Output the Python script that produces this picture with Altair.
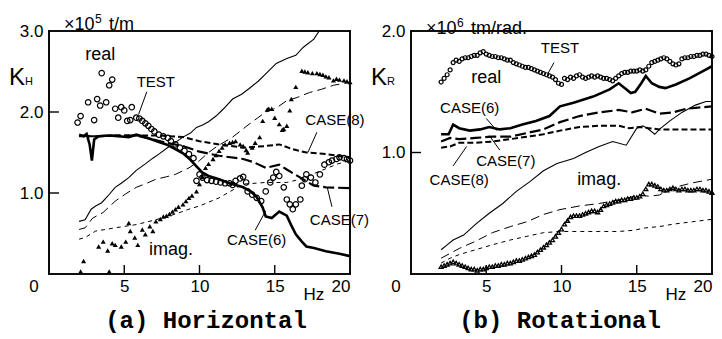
import altair as alt
import pandas as pd

# ---------------- data: (a) Horizontal ----------------
h_c6r_hz = [2.0, 2.3, 2.5, 2.7, 2.85, 3.0, 3.3, 4.0, 4.6, 5.3, 5.8, 6.2, 6.7, 7.3, 7.8, 8.3, 8.9, 9.4, 9.8, 10.2, 10.6, 11.3, 12.0, 12.9, 13.4, 13.8, 14.2, 14.4, 14.8, 15.3, 15.8, 16.1, 16.4, 16.8, 17.1, 17.6, 18.4, 19.3, 20.0]
h_c6r_v = [1.72, 1.70, 1.73, 1.60, 1.40, 1.66, 1.70, 1.71, 1.70, 1.69, 1.72, 1.70, 1.67, 1.63, 1.60, 1.55, 1.49, 1.41, 1.33, 1.25, 1.21, 1.17, 1.12, 1.07, 1.02, 0.95, 0.82, 0.71, 0.69, 0.77, 0.72, 0.60, 0.49, 0.40, 0.34, 0.32, 0.28, 0.25, 0.22]
h_c6i_hz = [2.0, 2.4, 2.8, 3.1, 3.5, 3.9, 4.4, 4.8, 5.3, 5.8, 6.4, 6.9, 7.3, 7.8, 8.2, 8.9, 9.4, 9.8, 10.2, 10.6, 11.1, 11.6, 12.2, 12.8, 13.3, 13.9, 14.4, 15.1, 15.8, 16.4, 16.9, 17.6, 17.95]
h_c6i_v = [0.65, 0.67, 0.80, 0.84, 0.88, 0.96, 1.07, 1.12, 1.19, 1.28, 1.36, 1.43, 1.48, 1.55, 1.60, 1.69, 1.74, 1.81, 1.84, 1.88, 1.95, 2.04, 2.16, 2.22, 2.29, 2.38, 2.47, 2.60, 2.66, 2.70, 2.80, 2.90, 3.0]
h_c7r_hz = [2.0, 3.0, 4.4, 5.8, 6.7, 7.8, 8.9, 10.0, 11.3, 12.9, 13.6, 14.4, 15.3, 15.8, 16.7, 17.6, 18.4, 20.0]
h_c7r_v = [1.71, 1.70, 1.71, 1.71, 1.67, 1.62, 1.58, 1.51, 1.46, 1.42, 1.38, 1.31, 1.35, 1.29, 1.19, 1.09, 1.07, 1.06]
h_c7i_hz = [2.0, 2.4, 2.9, 3.6, 4.4, 5.1, 5.8, 6.5, 7.1, 7.8, 8.4, 9.3, 10.0, 10.6, 11.2, 12.2, 13.3, 14.4, 15.1, 15.8, 16.5, 17.3, 18.1, 18.9, 19.5, 20.0]
h_c7i_v = [0.55, 0.57, 0.69, 0.76, 0.90, 0.99, 1.07, 1.12, 1.17, 1.20, 1.23, 1.31, 1.40, 1.50, 1.58, 1.69, 1.85, 2.00, 2.05, 2.14, 2.18, 2.24, 2.28, 2.33, 2.35, 2.37]
h_c8r_hz = [2.0, 3.0, 4.5, 6.0, 7.3, 8.9, 10.0, 11.3, 12.9, 14.4, 15.3, 16.2, 17.1, 18.4, 20.0]
h_c8r_v = [1.70, 1.70, 1.71, 1.71, 1.71, 1.69, 1.64, 1.60, 1.56, 1.58, 1.60, 1.54, 1.50, 1.48, 1.44]
h_c8i_hz = [2.0, 2.4, 3.1, 4.4, 5.8, 7.1, 8.4, 9.3, 10.0, 11.3, 12.9, 14.4, 15.8, 16.7, 17.6, 18.4, 19.2, 20.0]
h_c8i_v = [0.43, 0.45, 0.53, 0.57, 0.61, 0.67, 0.74, 0.80, 0.84, 0.94, 1.11, 1.13, 1.13, 1.17, 1.24, 1.30, 1.36, 1.40]
h_test_re_hz = [1.9, 2.1, 2.6, 3.0, 3.2, 3.4, 3.5, 3.8, 4.0, 4.2, 4.4, 4.6, 4.8, 5.0, 5.2, 5.4, 5.5, 5.8, 6.0, 6.2, 6.4, 6.6, 6.8, 7.0, 7.3, 7.6, 7.9, 8.1, 8.4, 8.7, 9.0, 9.3, 9.6, 9.8, 10.0, 10.2, 10.5, 10.8, 11.1, 11.4, 11.7, 12.0, 12.2, 12.4, 12.7, 12.9, 13.1, 13.2, 13.5, 13.8, 14.1, 14.4, 14.7, 14.9, 15.1, 15.3, 15.6, 15.8, 16.0, 16.2, 16.4, 16.7, 16.8, 17.0, 17.1, 17.4, 17.7, 18.0, 18.3, 18.6, 18.8, 19.1, 19.3, 19.6, 19.8, 20.0]
h_test_re_v = [1.87, 1.95, 2.12, 1.90, 2.16, 2.08, 2.48, 2.12, 2.33, 2.40, 2.04, 1.93, 2.06, 2.02, 1.89, 1.90, 2.06, 1.93, 1.92, 1.89, 1.86, 1.83, 1.79, 1.76, 1.72, 1.70, 1.68, 1.64, 1.60, 1.56, 1.52, 1.48, 1.43, 1.15, 1.23, 1.19, 1.16, 1.15, 1.14, 1.13, 1.12, 1.12, 1.10, 1.15, 1.18, 1.20, 1.13, 1.02, 0.98, 0.94, 0.90, 1.02, 1.13, 1.19, 1.26, 1.21, 1.07, 0.92, 0.86, 0.80, 0.86, 0.92, 1.09, 1.17, 1.23, 1.19, 1.13, 1.23, 1.35, 1.38, 1.40, 1.42, 1.44, 1.43, 1.42, 1.40]
h_test_im_hz = [2.1, 2.3, 3.3, 3.6, 3.9, 4.0, 4.2, 4.4, 4.8, 5.1, 5.3, 5.4, 5.7, 5.9, 6.2, 6.4, 6.7, 6.9, 7.1, 7.4, 7.6, 7.8, 8.0, 8.2, 8.4, 8.6, 8.9, 9.1, 9.3, 9.5, 9.8, 10.0, 10.2, 10.4, 10.6, 10.9, 11.1, 11.3, 11.5, 11.7, 12.0, 12.2, 12.4, 12.7, 12.9, 13.1, 13.2, 13.5, 13.7, 14.0, 14.2, 14.5, 14.6, 14.8, 15.0, 15.3, 15.5, 15.6, 15.8, 16.0, 16.1, 16.4, 16.8, 17.0, 17.2, 17.5, 17.8, 18.0, 18.2, 18.4, 18.6, 18.9, 19.1, 19.3, 19.6, 19.8, 20.0]
h_test_im_v = [0.03, 0.16, 0.34, 0.40, 0.29, 0.03, 0.38, 0.36, 0.34, 0.40, 0.63, 0.53, 0.45, 0.36, 0.55, 0.49, 0.59, 0.53, 0.65, 0.68, 0.71, 0.72, 0.74, 0.77, 0.80, 0.83, 0.86, 0.90, 0.94, 0.97, 1.02, 1.11, 1.20, 1.31, 1.36, 1.42, 1.47, 1.52, 1.56, 1.60, 1.62, 1.63, 1.64, 1.60, 1.58, 1.53, 1.50, 1.56, 1.62, 1.69, 1.89, 2.03, 2.04, 2.04, 1.93, 1.85, 1.78, 1.79, 1.83, 2.02, 2.16, 2.31, 2.51, 2.50, 2.49, 2.48, 2.48, 2.47, 2.46, 2.44, 2.43, 2.39, 2.41, 2.40, 2.39, 2.38, 2.37]

# ---------------- data: (b) Rotational ----------------
r_c6r_hz = [2.0, 2.5, 2.8, 3.2, 3.9, 4.6, 5.2, 5.9, 6.6, 7.4, 8.3, 9.2, 9.9, 10.8, 12.1, 13.2, 13.8, 14.3, 14.6, 14.9, 15.3, 15.6, 16.0, 16.5, 16.9, 17.6, 18.5, 19.4, 20.0]
r_c6r_v = [1.15, 1.15, 1.23, 1.20, 1.18, 1.19, 1.21, 1.19, 1.20, 1.23, 1.26, 1.30, 1.38, 1.41, 1.46, 1.52, 1.57, 1.52, 1.49, 1.50, 1.57, 1.63, 1.57, 1.54, 1.53, 1.56, 1.61, 1.67, 1.71]
r_c7r_hz = [2.0, 2.6, 3.2, 4.3, 5.4, 6.6, 7.7, 8.8, 9.9, 11.2, 12.5, 13.8, 14.7, 15.6, 16.5, 17.4, 18.3, 20.0]
r_c7r_v = [1.09, 1.12, 1.11, 1.12, 1.13, 1.13, 1.16, 1.19, 1.25, 1.30, 1.33, 1.35, 1.33, 1.36, 1.32, 1.33, 1.36, 1.38]
r_c8r_hz = [2.0, 2.6, 3.2, 4.3, 5.4, 6.6, 7.7, 8.8, 9.9, 11.2, 12.5, 13.8, 14.5, 15.2, 15.8, 16.5, 20.0]
r_c8r_v = [1.04, 1.05, 1.08, 1.08, 1.09, 1.11, 1.13, 1.15, 1.18, 1.21, 1.22, 1.22, 1.20, 1.21, 1.20, 1.19, 1.19]
r_c6i_hz = [2.0, 2.4, 2.8, 3.5, 4.3, 5.2, 6.1, 7.0, 7.9, 8.8, 9.7, 10.8, 11.6, 12.5, 13.4, 14.3, 15.0, 15.4, 15.7, 16.2, 16.5, 17.2, 18.0, 18.9, 19.6, 20.0]
r_c6i_v = [0.20, 0.24, 0.28, 0.32, 0.41, 0.50, 0.58, 0.68, 0.76, 0.85, 0.91, 0.95, 1.00, 1.05, 1.09, 1.06, 1.20, 1.22, 1.20, 1.15, 1.19, 1.26, 1.33, 1.39, 1.42, 1.42]
r_c7i_hz = [2.0, 2.6, 3.2, 4.3, 5.4, 6.6, 7.7, 8.8, 9.9, 11.2, 12.5, 13.8, 15.2, 15.8, 16.5, 17.4, 18.7, 20.0]
r_c7i_v = [0.13, 0.17, 0.21, 0.27, 0.34, 0.39, 0.43, 0.49, 0.53, 0.56, 0.58, 0.61, 0.65, 0.64, 0.65, 0.71, 0.75, 0.78]
r_c8i_hz = [2.0, 2.6, 3.2, 4.3, 5.4, 6.6, 7.7, 8.8, 9.9, 11.2, 12.5, 13.8, 14.8, 15.6, 16.5, 17.4, 18.7, 20.0]
r_c8i_v = [0.09, 0.13, 0.16, 0.20, 0.24, 0.28, 0.31, 0.34, 0.35, 0.35, 0.35, 0.35, 0.36, 0.38, 0.39, 0.41, 0.43, 0.45]
r_test_re_hz = [2.0, 2.2, 2.4, 2.6, 2.8, 3.0, 3.2, 3.4, 3.6, 3.8, 4.0, 4.2, 4.4, 4.6, 4.8, 5.0, 5.2, 5.4, 5.6, 5.8, 6.0, 6.2, 6.4, 6.6, 6.8, 7.0, 7.2, 7.4, 7.6, 7.8, 8.0, 8.2, 8.4, 8.6, 8.8, 9.0, 9.2, 9.4, 9.6, 9.8, 10.0, 10.2, 10.4, 10.6, 10.8, 11.0, 11.2, 11.4, 11.6, 11.8, 12.0, 12.2, 12.4, 12.6, 12.8, 13.0, 13.2, 13.4, 13.6, 13.8, 14.0, 14.2, 14.4, 14.6, 14.8, 15.0, 15.2, 15.4, 15.6, 15.8, 16.0, 16.2, 16.4, 16.6, 16.8, 17.0, 17.2, 17.4, 17.6, 17.8, 18.0, 18.2, 18.4, 18.6, 18.8, 19.0, 19.2, 19.4, 19.6, 19.8, 20.0]
r_test_re_v = [1.58, 1.61, 1.64, 1.68, 1.74, 1.76, 1.75, 1.77, 1.78, 1.78, 1.79, 1.80, 1.80, 1.82, 1.83, 1.81, 1.80, 1.79, 1.79, 1.78, 1.78, 1.77, 1.76, 1.76, 1.74, 1.73, 1.72, 1.71, 1.70, 1.70, 1.69, 1.68, 1.67, 1.66, 1.65, 1.64, 1.63, 1.62, 1.60, 1.57, 1.56, 1.61, 1.60, 1.62, 1.61, 1.63, 1.64, 1.62, 1.61, 1.62, 1.63, 1.62, 1.63, 1.62, 1.61, 1.61, 1.60, 1.59, 1.61, 1.63, 1.65, 1.66, 1.66, 1.67, 1.67, 1.67, 1.68, 1.67, 1.68, 1.71, 1.74, 1.75, 1.76, 1.77, 1.78, 1.77, 1.75, 1.73, 1.72, 1.73, 1.77, 1.78, 1.78, 1.79, 1.79, 1.80, 1.80, 1.81, 1.81, 1.80, 1.79]
r_test_im_hz = [2.0, 2.2, 2.4, 2.6, 2.8, 3.0, 3.2, 3.4, 3.6, 3.8, 4.0, 4.2, 4.4, 4.6, 4.8, 5.0, 5.2, 5.4, 5.6, 5.8, 6.0, 6.2, 6.4, 6.6, 6.8, 7.0, 7.2, 7.4, 7.6, 7.8, 8.0, 8.2, 8.4, 8.6, 8.8, 9.0, 9.2, 9.4, 9.6, 9.8, 10.0, 10.2, 10.4, 10.6, 10.8, 11.0, 11.2, 11.4, 11.6, 11.8, 12.0, 12.2, 12.4, 12.6, 12.8, 13.0, 13.2, 13.4, 13.6, 13.8, 14.0, 14.2, 14.4, 14.6, 14.8, 15.0, 15.2, 15.4, 15.6, 15.8, 16.0, 16.2, 16.4, 16.6, 16.8, 17.0, 17.2, 17.4, 17.6, 17.8, 18.0, 18.2, 18.4, 18.6, 18.8, 19.0, 19.2, 19.4, 19.6, 19.8, 20.0]
r_test_im_v = [0.06, 0.07, 0.08, 0.09, 0.10, 0.09, 0.08, 0.07, 0.06, 0.05, 0.04, 0.04, 0.03, 0.04, 0.04, 0.05, 0.06, 0.06, 0.07, 0.07, 0.08, 0.08, 0.09, 0.09, 0.10, 0.11, 0.11, 0.12, 0.13, 0.14, 0.15, 0.16, 0.18, 0.20, 0.22, 0.24, 0.26, 0.28, 0.31, 0.34, 0.37, 0.41, 0.44, 0.47, 0.48, 0.48, 0.48, 0.49, 0.50, 0.51, 0.52, 0.52, 0.51, 0.53, 0.56, 0.57, 0.58, 0.59, 0.60, 0.60, 0.61, 0.61, 0.62, 0.62, 0.63, 0.63, 0.64, 0.66, 0.70, 0.74, 0.74, 0.73, 0.72, 0.70, 0.69, 0.69, 0.70, 0.71, 0.70, 0.69, 0.70, 0.70, 0.69, 0.69, 0.69, 0.70, 0.70, 0.69, 0.69, 0.68, 0.67]

# tick values
x_label_vals = [5, 10, 15, 20]
x_tick_vals = [5, 10, 15]
h_y_label_vals = [1.0, 2.0, 3.0]
h_y_tick_vals = [1.0, 2.0]
r_y_label_vals = [1.0, 2.0]
r_y_tick_vals = [1.0]

# annotation texts: label, hz, val, font size
h_annot = [("real", 3.4, 2.70, 18), ("TEST", 7.1, 2.37, 15), ("imag.", 8.1, 0.30, 18),
           ("CASE(8)", 19.0, 1.90, 15), ("CASE(7)", 19.3, 0.67, 15), ("CASE(6)", 13.8, 0.42, 15)]
h_lead = [(6.5, 2.25, 5.95, 1.97), (17.8, 1.75, 17.2, 1.50), (18.8, 0.83, 18.5, 1.06), (13.7, 0.54, 14.4, 0.78)]
r_annot = [("real", 5.0, 1.61, 18), ("TEST", 9.9, 1.86, 15), ("imag.", 12.5, 0.77, 18),
           ("CASE(6)", 3.9, 1.37, 15), ("CASE(7)", 6.3, 0.93, 15), ("CASE(8)", 3.2, 0.77, 15)]
r_lead = [(9.5, 1.74, 9.1, 1.65), (5.0, 1.28, 5.7, 1.18), (5.9, 1.02, 5.2, 1.14), (2.8, 0.89, 3.7, 1.05)]

W, H = 301, 243
FONT = "Liberation Sans"
XMAX = 20.0


def xy(hz, v):
    return pd.DataFrame({"hz": hz, "val": v})


def panel(ymax, ylabvals, ytickvals, lines, circ, tri, csize, tsize, tfill,
          annot, lead, sup_digit, unit, klet, ksub, title, title_x, hdr_y):
    xs = alt.Scale(domain=[0, XMAX], nice=False, zero=False)
    ys = alt.Scale(domain=[0, ymax], nice=False, zero=False)
    xax = alt.Axis(values=x_label_vals, labelFontSize=17, labelPadding=4, ticks=False,
                   domain=False, grid=False, title=None, labelColor="black", labelFont=FONT)
    yax = alt.Axis(values=ylabvals, format=".1f", labelFontSize=17, labelPadding=6, ticks=False,
                   domain=False, grid=False, title=None, labelColor="black", labelFont=FONT)

    def X():
        return alt.X("hz:Q", scale=xs, axis=xax)

    def Y():
        return alt.Y("val:Q", scale=ys, axis=yax)

    one = pd.DataFrame({"a": [0]})
    styles = [dict(strokeWidth=2.6), dict(strokeWidth=1.1),
              dict(strokeWidth=2.2, strokeDash=[11, 4]), dict(strokeWidth=1.0, strokeDash=[9, 5]),
              dict(strokeWidth=2.0, strokeDash=[6, 3]), dict(strokeWidth=1.0, strokeDash=[4, 4])]
    layers = []
    for (hz, v), st in zip(lines, styles):
        layers.append(alt.Chart(xy(hz, v)).mark_line(color="black", clip=True, **st).encode(X(), Y()))
    layers.append(alt.Chart(xy(*circ)).mark_point(shape="circle", filled=False, color="black",
                                                  size=csize, strokeWidth=1.2, opacity=1).encode(X(), Y()))
    layers.append(alt.Chart(xy(*tri)).mark_point(shape="triangle-up", filled=tfill, color="black",
                                                 size=tsize, strokeWidth=1.3, opacity=1).encode(X(), Y()))
    adf = pd.DataFrame(annot, columns=["label", "hz", "val", "fs"])
    layers.append(alt.Chart(adf).mark_text(color="black", font=FONT, baseline="middle", align="center").encode(
        X(), Y(), text="label:N", size=alt.Size("fs:Q", scale=None, legend=None)))
    ldf = pd.DataFrame(lead, columns=["hz", "val", "hz2", "val2"])
    layers.append(alt.Chart(ldf).mark_rule(color="black", strokeWidth=1.0).encode(X(), Y(), x2="hz2:Q", y2="val2:Q"))

    # frame edges and inward ticks as thin filled rectangles in data coordinates
    px = XMAX / W          # one pixel in x data units
    py = ymax / H          # one pixel in y data units
    hw = 0.8               # half thickness of the frame, pixels
    tw = 0.7               # half thickness of a tick, pixels
    rects = [
        (-hw * px, -hw * py, XMAX + hw * px, hw * py),            # bottom
        (-hw * px, ymax - hw * py, XMAX + hw * px, ymax + hw * py),  # top
        (-hw * px, -hw * py, hw * px, ymax + hw * py),            # left
        (XMAX - hw * px, -hw * py, XMAX + hw * px, ymax + hw * py),  # right
    ]
    rects += [(t - tw * px, 0.0, t + tw * px, 9 * py) for t in x_tick_vals]
    rects += [(0.0, t - tw * py, 10 * px, t + tw * py) for t in ytickvals]
    rdf = pd.DataFrame(rects, columns=["hz", "val", "hz2", "val2"])
    layers.append(alt.Chart(rdf).mark_rect(color="black", opacity=1.0).encode(
        X(), Y(), x2="hz2:Q", y2="val2:Q"))

    def txt(s, x, y, size, align="left", baseline="alphabetic", font=FONT, weight="normal"):
        return alt.Chart(one).mark_text(text=s, fontSize=size, align=align, baseline=baseline, font=font,
                                        fontWeight=weight, color="black").encode(x=alt.value(x), y=alt.value(y))

    layers.append(txt("0", -15, H + 13, 17, align="center", baseline="middle"))
    layers.append(alt.Chart(pd.DataFrame({"hz": [17.6]})).mark_text(text="Hz", fontSize=17, font=FONT, color="black",
                                                                    baseline="middle").encode(X(), y=alt.value(H + 21)))
    layers.append(txt("\u00d710", 15, hdr_y + 2, 18, baseline="top"))
    layers.append(txt(sup_digit, 46, hdr_y, 12, baseline="top"))
    layers.append(txt(unit, 60, hdr_y + 2, 18, baseline="top"))
    layers.append(txt(klet, -40, 54, 24))
    layers.append(txt(ksub, -24, 54, 11))
    layers.append(txt(title, title_x, H + 47, 24, align="center", baseline="middle",
                      font="Liberation Mono", weight="bold"))
    return alt.layer(*layers).properties(width=W, height=H)


left = panel(3.0, h_y_label_vals, h_y_tick_vals,
             [(h_c6r_hz, h_c6r_v), (h_c6i_hz, h_c6i_v), (h_c7r_hz, h_c7r_v), (h_c7i_hz, h_c7i_v),
              (h_c8r_hz, h_c8r_v), (h_c8i_hz, h_c8i_v)],
             (h_test_re_hz, h_test_re_v), (h_test_im_hz, h_test_im_v), 30, 26, True,
             h_annot, h_lead, "5", "t/m", "K", "H", "(a) Horizontal", 157, -17)
right = panel(2.0, r_y_label_vals, r_y_tick_vals,
              [(r_c6r_hz, r_c6r_v), (r_c6i_hz, r_c6i_v), (r_c7r_hz, r_c7r_v), (r_c7i_hz, r_c7i_v),
               (r_c8r_hz, r_c8r_v), (r_c8i_hz, r_c8i_v)],
              (r_test_re_hz, r_test_re_v), (r_test_im_hz, r_test_im_v), 16, 16, False,
              r_annot, r_lead, "6", "tm/rad.", "K", "R", "(b) Rotational", 149, -13)

chart = alt.hconcat(left, right, spacing=61, bounds="flush",
                    padding={"left": 8, "top": 12, "right": 0, "bottom": 0}).configure(
    font=FONT, view=alt.ViewConfig(stroke="black", strokeWidth=1.5))

chart.save("out.html", embed_options={"renderer": "svg", "actions": False})
